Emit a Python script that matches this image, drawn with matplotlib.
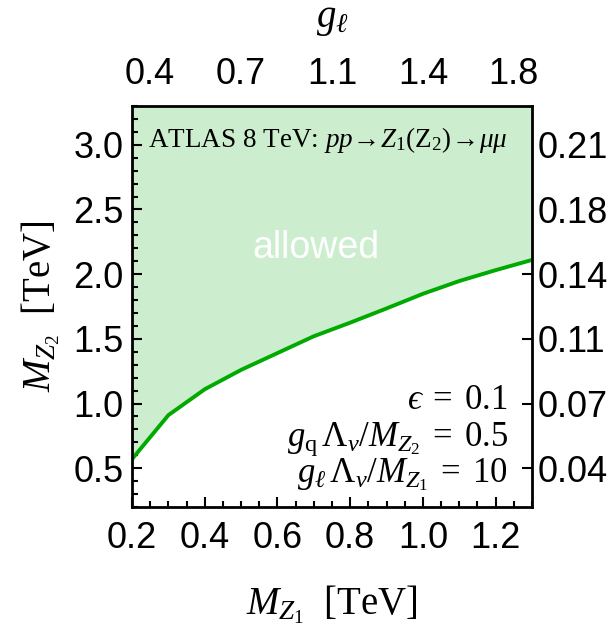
import numpy as np
from matplotlib import pyplot as plt
from matplotlib.ticker import MultipleLocator

# dati
mz1 = [0.2, 0.3, 0.4, 0.5, 0.6, 0.7, 0.8, 0.9, 1.0, 1.1, 1.2, 1.3]
mz2_lim = [0.57, 0.91, 1.11, 1.26, 1.39, 1.52, 1.625, 1.735, 1.848, 1.947, 2.031, 2.11]

y_ticks = [0.5, 1.0, 1.5, 2.0, 2.5, 3.0]
y_labels = ["0.5", "1.0", "1.5", "2.0", "2.5", "3.0"]
g_right = ["0.04", "0.07", "0.11", "0.14", "0.18", "0.21"]
top_ticks = [0.25, 0.5, 0.75, 1.0, 1.25]
g_top = ["0.4", "0.7", "1.1", "1.4", "1.8"]

plt.rcParams['mathtext.fontset'] = 'custom'
plt.rcParams['mathtext.rm'] = 'Liberation Serif'
plt.rcParams['mathtext.it'] = 'Liberation Serif:italic'
plt.rcParams['mathtext.bf'] = 'Liberation Serif:bold'
plt.rcParams['mathtext.fallback'] = 'stix'
plt.rcParams['font.family'] = ['Liberation Sans', 'DejaVu Sans']

fig = plt.figure(figsize=(6.15, 6.33), dpi=100)
ax = fig.add_axes([132/615, 1-507/633, 400/615, 401/633])

ax.fill_between(mz1, mz2_lim, 3.3, color='#cdedcf', lw=0)
ax.plot(mz1, mz2_lim, color='#00aa00', lw=2.8, solid_joinstyle='miter')

ax.set_xlim(0.2, 1.3)
ax.set_ylim(0.2, 3.3)
ax.set_xticks([0.2, 0.4, 0.6, 0.8, 1.0, 1.2])
ax.set_yticks(y_ticks, y_labels)
ax.xaxis.set_minor_locator(MultipleLocator(0.05))
ax.yaxis.set_minor_locator(MultipleLocator(0.1))
ax.tick_params(which='both', direction='in', labelsize=26, width=1.5, top=False, right=False)
ax.tick_params(which='major', length=7)
ax.tick_params(which='minor', length=4)
ax.tick_params(axis='x', pad=10)
ax.tick_params(axis='y', pad=6)
for s in ax.spines.values():
	s.set_linewidth(2)

# assi secondari
axt = ax.secondary_xaxis('top')
axt.set_xticks(top_ticks, g_top)
axt.tick_params(direction='in', labelsize=26, width=1.5, length=7, pad=10)
axr = ax.secondary_yaxis('right')
axr.set_yticks(y_ticks, g_right)
axr.tick_params(direction='in', labelsize=26, width=1.5, length=7, pad=4)

ax.set_xlabel(r'$M_{Z_1}\ \ \mathrm{[TeV]}$', fontsize=28, labelpad=20)
ax.set_ylabel(r'$M_{Z_2}\ \ \mathrm{[TeV]}$', fontsize=28, labelpad=8)
axt.set_xlabel(r'$g_{\ell}$', fontsize=28, labelpad=22)

ax.text(0.04, 0.915, r'ATLAS 8 TeV: $pp\!\rightarrow\! Z_{1}(\mathrm{Z}_2)\!\rightarrow\!\mu\mu$',
	transform=ax.transAxes, fontsize=19.5, va='center', ha='left', family='Liberation Serif')
ax.text(0.46, 0.645, 'allowed', transform=ax.transAxes, fontsize=27, color='white', ha='center', va='center')
ax.text(0.94, 0.245, r'$ϵ\;=\;0.1$', transform=ax.transAxes, fontsize=25, ha='right', va='baseline')
ax.text(0.94, 0.153, r'$g_{\mathrm{q}}\,\Lambda_{\nu}/M_{Z_2}\;=\;0.5$', transform=ax.transAxes, fontsize=25, ha='right', va='baseline')
ax.text(0.94, 0.062, r'$g_{\ell}\,\Lambda_{\nu}/M_{Z_1}\;=\;10$', transform=ax.transAxes, fontsize=25, ha='right', va='baseline')

fig.savefig('out.png', dpi=100)
